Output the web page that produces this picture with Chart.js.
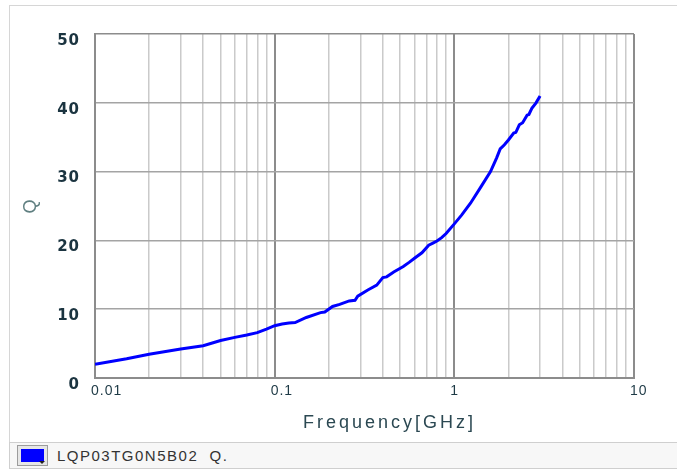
<!DOCTYPE html>
<html>
<head>
<meta charset="utf-8">
<script src="https://cdn.jsdelivr.net/npm/chart.js@4.4.1/dist/chart.umd.min.js"></script>
<style>
  body { margin: 0; background: #fff; width: 677px; height: 470px; overflow: hidden; position: relative; }
  #graf { position: absolute; left: 0; top: 0; }
  #marco { position: absolute; left: 9px; top: 5px; width: 700px; height: 437px; border: 1px solid #d6d6d6; pointer-events: none; }
  #leyenda { position: absolute; left: 9px; top: 442px; width: 700px; height: 25px; background: #f7f7f7;
    border: 1px solid #cfcfcf; font: 15px "Liberation Sans", sans-serif; color: #333; letter-spacing: 1.5px; }
  .boton { position: absolute; left: 7px; top: 2px; width: 31px; height: 21px; background: #e6e6e6;
    border: 1px solid #9c9c9c; box-sizing: border-box; }
  .boton .color { position: absolute; left: 3px; top: 3px; width: 23px; height: 13px; }
  .boton .flecha { position: absolute; right: 2px; bottom: 1px; width: 0; height: 0;
    border-left: 3px solid transparent; border-right: 3px solid transparent; border-top: 3px solid #222; }
  .texto { position: absolute; left: 47px; top: 4px; white-space: pre; }
</style>
</head>
<body>
<canvas id="graf" width="677" height="443"></canvas>
<div id="marco"></div>
<div id="leyenda"></div>
<script>
/*Datos*/
const frecuencias = [0.01, 0.015, 0.02, 0.03, 0.04, 0.05, 0.06, 0.07, 0.08, 0.09, 0.1, 0.11, 0.12, 0.13,
  0.15, 0.18, 0.19, 0.21, 0.23, 0.26, 0.28, 0.29, 0.33, 0.37, 0.40, 0.42, 0.46, 0.52, 0.56, 0.6, 0.66,
  0.72, 0.76, 0.8, 0.85, 0.9, 1.0, 1.1, 1.23, 1.4, 1.59, 1.72, 1.8, 1.9, 2.0, 2.14, 2.2, 2.3, 2.4, 2.54,
  2.6, 2.7, 2.85, 3.0]
const valoresQ = [2.0, 2.8, 3.45, 4.2, 4.7, 5.45, 5.9, 6.25, 6.6, 7.1, 7.6, 7.85, 8.0, 8.05,
  8.8, 9.5, 9.6, 10.4, 10.7, 11.2, 11.3, 11.9, 12.8, 13.5, 14.6, 14.7, 15.4, 16.2, 16.8, 17.4, 18.2,
  19.3, 19.6, 19.9, 20.4, 21.0, 22.4, 23.7, 25.4, 27.7, 30.0, 32.0, 33.3, 33.9, 34.6, 35.6, 35.7, 36.8, 37.1, 38.2,
  38.3, 39.2, 40.0, 41.0]
const etiquetasX = [0.01, 0.1, 1, 10]
const etiquetasY = [0, 10, 20, 30, 40, 50]
const nombreSerie = "LQP03TG0N5B02  Q."
const tituloX = "Frequency[GHz]"
const tituloY = "Q"
const colorSerie = "#0000ff"

//Lineas de la rejilla logaritmica: 1..9 de cada decada
function TicksLog(scale) {
  let ticks = new Array()
  for (let d = -2; d < 1; d++) {
    for (let m = 1; m < 10; m++) {
      ticks.push({ value: +(m * Math.pow(10, d)).toPrecision(3) })
    }
  }
  ticks.push({ value: 10 })
  scale.ticks = ticks
}

function EsDecada(v) {
  return etiquetasX.some(e => Math.abs(e - v) < 1e-9)
}

const espaciado = {
  id: 'espaciado',
  beforeDraw(chart) { chart.ctx.letterSpacing = '1px' },
  afterDraw(chart) {
    let ctx = chart.ctx
    let area = chart.chartArea
    ctx.save()
    ctx.letterSpacing = '3px'
    ctx.font = '18px "Liberation Sans"'
    ctx.fillStyle = '#2b4852'
    ctx.textAlign = 'center'
    ctx.textBaseline = 'alphabetic'
    ctx.fillText(tituloX, (area.left + area.right) / 2 + 25, 428)
    ctx.restore()
    ctx.letterSpacing = '0px'
  }
}

let grafico = new Chart("graf", {
  type: 'line',
  data: {
    labels: frecuencias,
    datasets: [{
      label: nombreSerie,
      data: frecuencias.map((f, i) => ({ x: f, y: valoresQ[i] })),
      borderColor: colorSerie,
      backgroundColor: colorSerie,
      borderWidth: 3,
      pointRadius: 0,
      tension: 0
    }]
  },
  options: {
    responsive: false,
    animation: false,
    layout: { padding: { left: 0, top: 34, right: 43, bottom: 0 } },
    plugins: { legend: { display: false }, tooltip: { enabled: false } },
    scales: {
      x: {
        type: 'logarithmic',
        min: 0.01,
        max: 10,
        afterBuildTicks: TicksLog,
        afterFit: scale => { scale.height = 65 },
        grid: {
          drawTicks: false,
          color: ctx => EsDecada(ctx.tick.value) ? '#8c8c8c' : '#cacaca',
          lineWidth: ctx => EsDecada(ctx.tick.value) ? 2 : 1.5
        },
        border: { color: '#8c8c8c', width: 2 },
        ticks: {
          autoSkip: false,
          maxRotation: 0,
          align: 'start',
          labelOffset: -4,
          padding: 5,
          color: '#1e3a46',
          font: { family: 'Liberation Sans', size: 14 },
          callback: v => EsDecada(v) ? String(v) : ''
        }
      },
      y: {
        min: 0,
        max: 50,
        afterBuildTicks: scale => { scale.ticks = etiquetasY.map(v => ({ value: v })) },
        afterFit: scale => { scale.width = 95 },
        grid: {
          drawTicks: false,
          color: ctx => (ctx.tick.value === 50 ? '#8c8c8c' : '#a4a4a4'),
          lineWidth: 1.5
        },
        border: { color: '#8c8c8c', width: 2 },
        ticks: {
          padding: 15,
          labelOffset: 7,
          color: '#1b3440',
          font: { family: 'DejaVu Sans', size: 15, weight: 'bold' }
        },
        title: {
          display: true,
          text: tituloY,
          color: '#5f7f80',
          font: { family: 'Liberation Sans', size: 18 },
          padding: { top: 20, bottom: 0 }
        }
      }
    }
  },
  plugins: [espaciado]
})

//Leyenda
function CrearLeyenda(chart) {
  let caja = document.getElementById("leyenda")
  chart.data.datasets.forEach(ds => {
    let boton = document.createElement("div")
    boton.className = "boton"
    let color = document.createElement("div")
    color.className = "color"
    color.style.background = ds.borderColor
    let flecha = document.createElement("div")
    flecha.className = "flecha"
    boton.appendChild(color)
    boton.appendChild(flecha)
    let texto = document.createElement("span")
    texto.className = "texto"
    texto.textContent = ds.label
    caja.appendChild(boton)
    caja.appendChild(texto)
  })
}
CrearLeyenda(grafico)
</script>
</body>
</html>
